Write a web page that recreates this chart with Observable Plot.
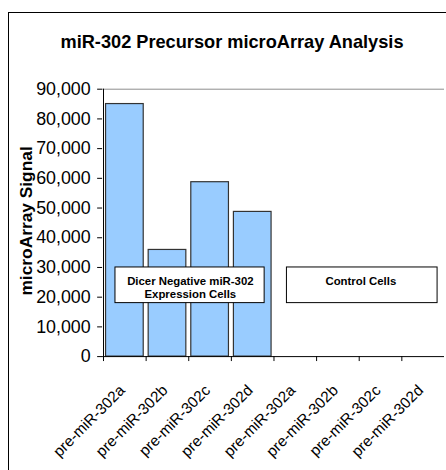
<!DOCTYPE html>
<html>
<head>
<meta charset="utf-8">
<script src="https://cdn.jsdelivr.net/npm/d3@7"></script>
<script src="https://cdn.jsdelivr.net/npm/@observablehq/plot@0.6"></script>
<style>
  html, body { margin: 0; padding: 0; background: #fff; overflow: hidden; }
  #wrap { position: relative; width: 446px; height: 470px; overflow: hidden; font-family: "Liberation Sans", Arial, sans-serif; }
  #frame { position: absolute; left: 8px; top: 12px; width: 480px; height: 500px; border: 1px solid #000; box-sizing: border-box; pointer-events: none; }
  #title { position: absolute; left: 0; top: 33px; width: 464px; text-align: center; font-weight: bold; font-size: 18.2px; line-height: 18px; color: #000; }
  #chart { position: absolute; left: 0; top: 0; }
</style>
</head>
<body>
<div id="wrap">
  <div id="frame"></div>
  <div id="chart"></div>
  <div id="title">miR-302 Precursor microArray Analysis</div>
</div>
<script>
// ---- data ----
const precursors = ["pre-miR-302a", "pre-miR-302b", "pre-miR-302c", "pre-miR-302d"];
const cellGroups = ["Dicer", "Control"];
const dicerSignal = [85000, 35900, 58700, 48700];
const controlSignal = [0, 0, 0, 0];
const yTicks = [0, 10000, 20000, 30000, 40000, 50000, 60000, 70000, 80000, 90000];
const boxLabels = ["Dicer Negative miR-302\nExpression Cells", "Control Cells"];
const boxTop = [30000, 30000];
const boxBottom = [18000, 18000];
const yTitle = "microArray Signal";

// ---- build table ----
const signals = [dicerSignal, controlSignal];
const rows = [];
cellGroups.forEach((g, gi) => precursors.forEach((p, pi) => rows.push({key: g + "|" + p, group: g, precursor: p, signal: signals[gi][pi]})));
const keys = rows.map(d => d.key);

const W = 450, H = 470, mL = 103, mR = 2, mT = 89.5, mB = 110.7;
const bw = (W - mL - mR) / keys.length;
const font = "'Liberation Sans', Arial, sans-serif";

const boxes = cellGroups.map((g, i) => {
  const gk = keys.filter(k => k.startsWith(g + "|"));
  return {group: g, label: boxLabels[i], first: gk[0], second: gk[1], last: gk[gk.length - 1], top: boxTop[i], bottom: boxBottom[i]};
});
const boxInsets = [[12, 9.5], [13, 7]];

function boxMark(index, scales) {
  const x = scales.x, y = scales.y;
  const step = x(keys[1]) - x(keys[0]);
  const g = d3.create("svg:g");
  boxes.forEach((b, i) => {
    const x0 = x(b.first) + boxInsets[i][0];
    const x1 = x(b.last) + step - boxInsets[i][1];
    g.append("rect")
      .attr("x", x0).attr("y", y(b.top))
      .attr("width", x1 - x0).attr("height", y(b.bottom) - y(b.top))
      .attr("fill", "#fff").attr("stroke", "#000").attr("stroke-width", 1);
  });
  return g.node();
}

const chart = Plot.plot({
  width: W, height: H,
  marginLeft: mL, marginRight: mR, marginTop: mT, marginBottom: mB,
  style: {fontFamily: font, background: "transparent", color: "#000", overflow: "visible"},
  x: {type: "band", domain: keys, padding: 0, axis: null},
  y: {domain: [0, 90000], axis: null},
  marks: [
    Plot.ruleY([90000], {stroke: "#8c8c8c", strokeWidth: 1}),
    Plot.barY(rows, {x: "key", y: "signal", fill: "#99ccff", stroke: "#333", strokeWidth: 1.2, insetLeft: 2.5, insetRight: 2.5}),
    boxMark,
    Plot.text(boxes, {x: "second", dx: bw / 2 + 1.5, y: "top", dy: 9, text: "label", lineAnchor: "top", lineHeight: 1.1, fontWeight: "bold", fontSize: 11.5, fill: "#000"}),
    Plot.ruleY([0], {stroke: "#000", strokeWidth: 1}),
    Plot.ruleX([keys[0]], {y1: 0, y2: 90000, dx: -bw / 2, stroke: "#000", strokeWidth: 1}),
    Plot.ruleX(keys, {y1: 0, y2: 0, insetBottom: -5, dx: -bw / 2, stroke: "#000"}),
    Plot.axisY({ticks: yTicks, tickFormat: d3.format(","), tickSize: 5, tickPadding: 7, fontSize: 18, label: null}),
    Plot.text(rows, {x: "key", text: "precursor", frameAnchor: "bottom", rotate: -45, textAnchor: "end", lineAnchor: "bottom", dy: 35, dx: 1, fontSize: 15.5, fill: "#000"}),
    Plot.text([yTitle], {text: d => d, frameAnchor: "left", rotate: -90, dx: -71.5, dy: -2, textAnchor: "middle", lineAnchor: "bottom", fontWeight: "bold", fontSize: 17.5, fill: "#000"})
  ]
});
document.getElementById("chart").appendChild(chart);
</script>
</body>
</html>
